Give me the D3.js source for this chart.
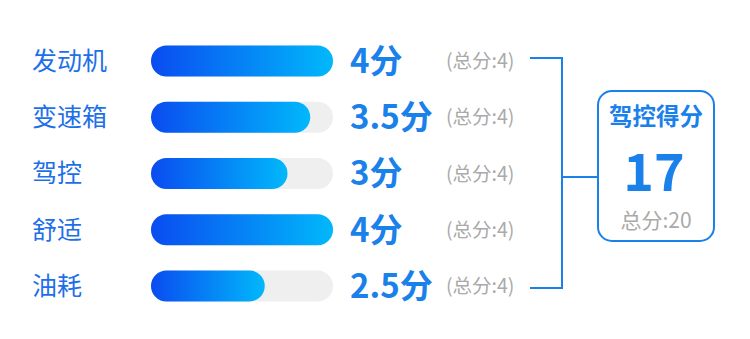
<!DOCTYPE html>
<html>
<head>
<meta charset="utf-8">
<script src="https://cdn.jsdelivr.net/npm/d3@7"></script>
<style>
  body { margin: 0; background: #fff; }
  svg text { font-family: "Noto Sans CJK SC", "Noto Sans", sans-serif; }
</style>
</head>
<body>
<div id="chart"></div>
<script>
// data
var categories = ['发动机', '变速箱', '驾控', '舒适', '油耗'];
var scores = [4, 3.5, 3, 4, 2.5];
var maxScores = [4, 4, 4, 4, 4];
var totalTitle = '驾控得分';
var totalScore = 17;
var totalMax = 20;

var width = 750, height = 339;
var blue = '#1a80ea';

var svg = d3.select('#chart').append('svg')
    .attr('width', width)
    .attr('height', height);

var defs = svg.append('defs');

var y = d3.scalePoint()
    .domain(categories)
    .range([61, 286]);

var x = d3.scaleLinear()
    .domain([0, 4])
    .range([0, 182]);

var barX = 151, barH = 31;

var rows = svg.selectAll('g.row')
    .data(categories)
    .enter().append('g')
    .attr('class', 'row')
    .attr('transform', function(d) { return 'translate(0,' + y(d) + ')'; });

// label
rows.append('text')
    .attr('x', 32)
    .attr('dy', '0.35em')
    .attr('font-size', 25)
    .attr('fill', '#1e6fe8')
    .text(function(d) { return d; });

// gray track
rows.append('rect')
    .attr('x', barX)
    .attr('y', -barH / 2)
    .attr('width', function(d, i) { return x(maxScores[i]); })
    .attr('height', barH)
    .attr('rx', barH / 2)
    .attr('fill', '#efefef');

// gradient per bar, so each bar goes full blue -> cyan
rows.each(function(d, i) {
    var grad = defs.append('linearGradient')
        .attr('id', 'g' + i)
        .attr('x1', '0%').attr('x2', '100%')
        .attr('y1', '0%').attr('y2', '0%');
    grad.append('stop').attr('offset', '0%').attr('stop-color', '#0a4cf0');
    grad.append('stop').attr('offset', '100%').attr('stop-color', '#01b8fb');
});

rows.append('rect')
    .attr('x', barX)
    .attr('y', -barH / 2)
    .attr('width', function(d, i) { return x(scores[i]); })
    .attr('height', barH)
    .attr('rx', barH / 2)
    .attr('fill', function(d, i) { return 'url(#g' + i + ')'; });

// score
rows.append('text')
    .attr('x', 350)
    .attr('dy', '0.36em')
    .attr('font-size', 33)
    .attr('font-weight', 'bold')
    .attr('fill', blue)
    .text(function(d, i) { return scores[i] + '分'; });

rows.append('text')
    .attr('x', 446)
    .attr('dy', '0.36em')
    .attr('font-size', 19.5)
    .attr('fill', '#aaaaaa')
    .text(function(d, i) { return '(总分:' + maxScores[i] + ')'; });

// bracket
var first = y(categories[0]), last = y(categories[categories.length - 1]);
var mid = 177;
var bracket = svg.append('g')
    .attr('fill', 'none')
    .attr('stroke', blue)
    .attr('stroke-width', 2);
bracket.append('path')
    .attr('d', 'M530,' + (first - 3) + 'H562V' + (last + 2) + 'H530');
bracket.append('path')
    .attr('d', 'M562,' + mid + 'H598');

// total box
var box = svg.append('g');
box.append('rect')
    .attr('x', 598)
    .attr('y', 91)
    .attr('width', 116)
    .attr('height', 150)
    .attr('rx', 14)
    .attr('fill', '#fff')
    .attr('stroke', blue)
    .attr('stroke-width', 2);

box.append('text')
    .attr('x', 656)
    .attr('y', 117)
    .attr('dy', '0.36em')
    .attr('text-anchor', 'middle')
    .attr('font-size', 23.5)
    .attr('font-weight', 'bold')
    .attr('fill', blue)
    .text(totalTitle);

box.append('text')
    .attr('x', 654)
    .attr('y', 172)
    .attr('dy', '0.36em')
    .attr('text-anchor', 'middle')
    .attr('font-size', 52)
    .attr('font-weight', 'bold')
    .attr('fill', blue)
    .text(totalScore);

box.append('text')
    .attr('x', 656)
    .attr('y', 220)
    .attr('dy', '0.36em')
    .attr('text-anchor', 'middle')
    .attr('font-size', 21)
    .attr('fill', '#aaaaaa')
    .text('总分:' + totalMax);
</script>
</body>
</html>
